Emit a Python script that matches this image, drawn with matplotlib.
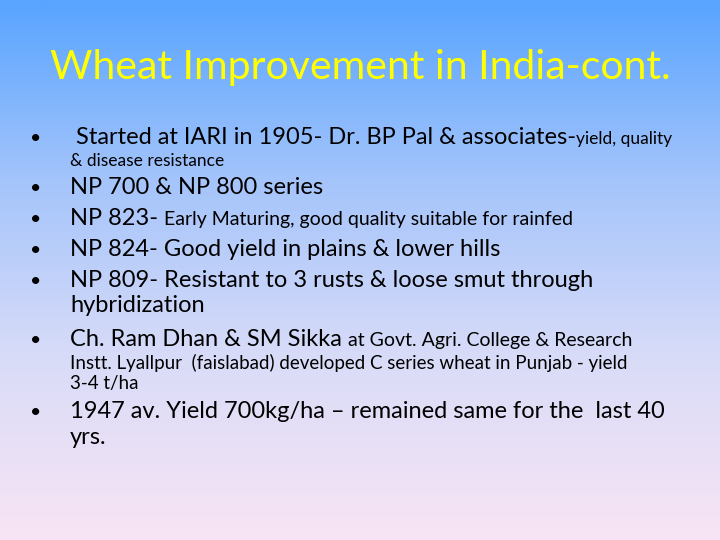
import matplotlib
matplotlib.use("Agg")
import matplotlib.pyplot as plt
import numpy as np
from matplotlib.colors import LinearSegmentedColormap

title = "Wheat Improvement in India-cont."
big, small = 17.0, 12.5
lines = [
    (138, 76, True, [("Started at IARI in 1905- Dr. BP Pal & associates-", big), ("yield, quality", small)]),
    (160, 70, False, [("& disease resistance", small)]),
    (188, 70, True, [("NP 700 & NP 800 series", big)]),
    (219, 70, True, [("NP 823- ", big), ("Early Maturing, good quality suitable for rainfed", 14.0)]),
    (250, 70, True, [("NP 824- Good yield in plains & lower hills", big)]),
    (281, 70, True, [("NP 809- Resistant to 3 rusts & loose smut through", big)]),
    (306, 70, False, [("hybridization", big)]),
    (340, 70, True, [("Ch. Ram Dhan & SM Sikka ", big), ("at Govt. Agri. College & Research", 14.0)]),
    (363, 70, False, [("Instt. Lyallpur  (faislabad) developed C series wheat in Punjab - yield", 13.5)]),
    (383, 70, False, [("3-4 t/ha", 13.5)]),
    (412, 70, True, [("1947 av. Yield 700kg/ha \u2013 remained same for the  last 40", big)]),
    (438, 70, False, [("yrs.", big)]),
]

W, H = 720, 540
fig = plt.figure(figsize=(7.2, 5.4), dpi=100)
ax = fig.add_axes([0, 0, 1, 1]); ax.axis("off")
cmap = LinearSegmentedColormap.from_list("bg", ["#58a4ff", "#a4c4fb", "#d9dcf8", "#f8e4f4"])
ax.imshow(np.linspace(0, 1, 256)[:, None], aspect="auto", cmap=cmap, extent=[0, 1, 0, 1])
ax.set_xlim(0, 1); ax.set_ylim(0, 1)

fam = ["Lato", "DejaVu Sans"]
fig.text(0.5, 1 - 68 / H, title, ha="center", va="center", fontsize=29.5, color="#ffff00", family=fam)
fig.canvas.draw()
r = fig.canvas.get_renderer()
for y, x, bullet, segs in lines:
    yy = 1 - y / H - 6 / H
    if bullet:
        fig.text(30 / W, yy, "\u2022", ha="left", va="baseline", fontsize=14, family=fam, color="black")
    cx = x
    for s, sz in segs:
        t = fig.text(cx / W, yy, s, ha="left", va="baseline", fontsize=sz, family=fam, color="black")
        cx = t.get_window_extent(r).x1
fig.savefig("out.png", dpi=100)
